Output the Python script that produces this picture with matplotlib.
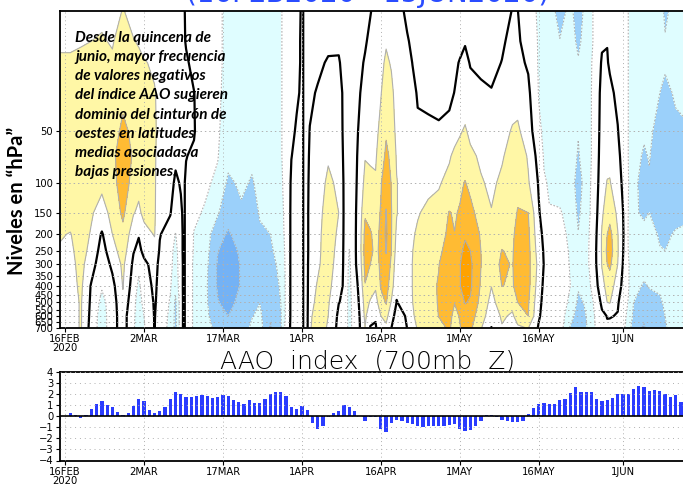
import numpy as np
import matplotlib
matplotlib.use("Agg")
import matplotlib.pyplot as plt

# days since 16 Feb 2020
tick_days = [0, 15, 30, 45, 60, 75, 90, 106]
tick_labels = ["16FEB\n2020", "2MAR", "17MAR", "1APR", "16APR", "1MAY", "16MAY", "1JUN"]

pressure = [10, 15, 20, 30, 50, 70, 100, 150, 200, 250, 300, 400, 500, 600, 700]
p_ticks = [50, 100, 150, 200, 250, 300, 350, 400, 450, 500, 550, 600, 650, 700]

# anomaly, one row per time column, top of the air column first
field_days = [
    -1.1, 1, 3, 5, 7, 9, 11, 13, 14, 15, 17, 18, 20, 21, 22, 22.5, 23, 24.5, 26.5, 29,
    31, 33.5, 35.5, 37, 39, 41, 42, 43, 44, 45, 45.5, 46, 46.5, 48, 50, 52, 53, 54, 55, 56,
    57, 58, 59, 60, 61, 62, 63, 65, 66, 67, 69, 71, 73, 74, 75, 76, 77, 79, 81, 83,
    85, 86, 88, 90, 91, 92, 94, 96, 97.5, 99, 100.5, 102, 103, 103.5, 105, 106, 107, 108, 110, 111,
    113, 114, 116, 118,
]
field = [
    [.5, .8, 1.2, 1.5, 1.6, 1.6, 1.6, 1.4, 1.1, .9, .8, .7, .6, .5, .5],
    [.5, .8, 1.2, 1.5, 1.7, 1.7, 1.7, 1.4, .95, .8, .7, .6, .5, .5, .5],
    [.6, .9, 1.3, 1.5, 1.8, 1.8, 1.8, 1.6, 1.5, 1.4, 1.3, 1.2, 1.1, 1.1, 1.1],
    [.6, 1.0, 1.4, 1.6, 1.8, 1.8, 1.5, 1.1, .9, .7, .4, -.1, -.2, -.3, -.4],
    [.8, 1.1, 1.5, 1.7, 1.8, 1.6, 1.2, .6, -.1, -.4, -.6, -.9, -1.3, -1.5, -1.5],
    [.6, .9, 1.2, 1.6, 1.8, 1.8, 1.6, 1.3, 1.0, .6, .2, -.3, -.5, -.4, -.4],
    [1.05, 1.6, 1.7, 1.9, 2.1, 2.5, 2.6, 2.2, 1.7, 1.5, 1.2, 1.05, .8, .5, .5],
    [.7, 1.05, 1.5, 1.7, 1.9, 1.9, 1.6, 1.05, .5, .05, -.2, -.5, -.8, -.9, -.9],
    [.65, .9, 1.3, 1.6, 1.7, 1.7, 1.2, .85, .05, -.2, -.8, -1.2, -1.3, -1.3, -1.4],
    [.6, .8, 1.05, 1.5, 1.6, 1.6, 1.5, 1.2, .7, .2, -.2, -.5, -.8, -1, -1.1],
    [.4, .7, .9, 1.05, 1.1, 1.1, 1.1, 1.1, 1.05, .7, .3, .2, .1, .05, .02],
    [.3, .5, .7, .8, .8, .7, .6, .5, .05, -.1, -.2, -.3, -.3, -.4, -.4],
    [.2, .4, .5, .5, .4, .3, .2, .05, -.4, -.6, -.7, -.9, -1.1, -1.2, -1.3],
    [.2, .3, .3, .3, .2, .1, -.1, -.5, -1.05, -1.4, -1.5, -1.7, -2.2, -2.3, -2.3],
    [.1, .2, .2, .2, .15, .1, .05, -.1, -.2, -.2, -.3, -.3, -.4, -.4, -.4],
    [.1, .1, .1, .1, .1, .1, .1, .1, .1, .1, .1, .1, .1, .1, .1],
    [-.1, -.05, .1, .2, .2, .02, -.1, -.1, -.1, -.1, -.1, -.1, -.1, -.1, -.1],
    [-.3, -.3, -.2, .02, .05, -.1, -.2, -.8, -1.05, -1.1, -1.2, -1.2, -1.2, -1.2, -1.2],
    [-.4, -.5, -.5, -.5, -.5, -.6, -.8, -1.1, -1.4, -1.5, -1.6, -1.7, -1.7, -1.7, -1.7],
    [-.85, -.85, -.85, -.85, -.9, -.95, -1.2, -1.9, -2.7, -2.95, -3.1, -3.1, -2.95, -2.6, -2.2],
    [-1.2, -1.2, -1.2, -1.3, -1.4, -1.7, -2.2, -2.7, -3.1, -3.5, -3.6, -3.6, -3.3, -3.0, -2.8],
    [-1.2, -1.3, -1.3, -1.3, -1.4, -1.5, -1.8, -2.2, -2.6, -2.8, -2.9, -2.9, -2.7, -2.6, -2.5],
    [-1.2, -1.3, -1.3, -1.4, -1.5, -1.8, -2.1, -2.3, -2.5, -2.6, -2.6, -2.5, -2.3, -2.05, -1.85],
    [-1.2, -1.2, -1.3, -1.3, -1.4, -1.5, -1.7, -1.95, -2.1, -2.2, -2.3, -2.2, -2.02, -1.8, -1.6],
    [-1.2, -1.2, -1.2, -1.2, -1.2, -1.3, -1.5, -1.7, -2.0, -2.2, -2.4, -2.5, -2.6, -2.9, -3.1],
    [-1.05, -1.05, -1.05, -1.05, -1.05, -1.05, -1.1, -1.2, -1.3, -1.5, -1.7, -1.9, -2.0, -2.1, -2.1],
    [-.8, -.8, -.8, -.8, -.8, -.8, -.8, -.8, -.8, -.8, -.8, -.8, -.8, -.8, -.6],
    [-.4, -.4, -.4, -.3, -.2, -.02, .15, .2, .2, .2, .2, .2, .2, .2, .2],
    [-.3, -.2, -.2, -.1, .1, .2, .2, .2, .2, .2, .2, .2, .2, .2, .2],
    [.1, .1, .1, .1, .1, .1, .1, .1, .1, .1, .1, .1, .1, .1, .1],
    [-.1, -.1, -.1, -.1, -.1, -.1, -.1, -.1, -.1, -.1, -.1, -.1, -.1, -.1, -.1],
    [-.2, -.2, -.2, -.2, -.2, -.2, -.2, -.2, -.2, -.2, -.2, -.2, -.2, -.2, -.2],
    [-.3, -.3, -.3, -.1, .02, .1, .2, .3, .3, .3, .4, .5, .6, .8, .9],
    [-.2, -.2, -.1, .05, .3, .4, .5, .6, .7, .75, .85, 1.1, 1.3, 1.5, 1.5],
    [-.2, -.1, .05, .4, .7, .9, 1.2, 1.5, 1.6, 1.6, 1.5, 1.3, 1.1, 1, .9],
    [-.2, -.05, .03, .2, .25, .4, .8, 1.0, .8, .6, .5, .3, .02, -.2, -.3],
    [-.1, -.1, -.1, -.1, -.1, -.1, -.1, -.1, -.1, -.1, -.1, -.1, -.1, -.1, -.1],
    [-.3, -.3, -.3, -.3, -.3, -.3, -.4, -.5, -.8, -1.02, -1.2, -1.3, -1.4, -1.4, -1.4],
    [-.2, -.2, -.2, -.2, -.2, -.2, -.2, -.2, -.2, -.2, -.2, -.3, -.4, -.5, -.5],
    [-.2, -.2, -.1, -.02, .1, .2, .3, .5, .6, .6, .5, .2, .1, .03, -.02],
    [-.1, -.05, .05, .2, .6, .95, 1.3, 1.9, 2.3, 2.4, 2.3, 1.95, 1.4, 1.2, 1.0],
    [-.02, .1, .2, .3, .5, .9, 1.2, 1.7, 2.1, 2.2, 2.0, 1.4, .9, .3, -.05],
    [.1, .2, .3, .4, .7, .9, 1.1, 1.5, 1.7, 1.8, 1.6, 1.1, .7, .1, -.1],
    [.3, .5, .7, .95, 1.3, 1.5, 1.9, 2.1, 2.2, 2.2, 2.2, 2.1, 1.5, 1.0, .8],
    [.4, .9, 1.2, 1.5, 1.9, 2.2, 2.7, 3.05, 3.2, 3.05, 2.8, 2.4, 2.1, 1.3, .8],
    [.3, .5, .9, 1.3, 1.6, 1.8, 1.95, 2.05, 2.05, 2.0, 1.8, 1.5, .9, .4, .02],
    [.2, .3, .4, .5, .7, .9, 1.05, 1.05, .8, .6, .4, .1, -.02, -.4, -.8],
    [-.1, .05, .2, .3, .4, .4, .4, .4, .4, .3, .3, .3, .2, .1, .02],
    [-.2, -.1, -.01, .15, .25, .4, .5, .7, .85, .97, 1.02, 1.02, .98, .9, .8],
    [-.3, -.3, -.2, -.05, .1, .3, .5, .9, 1.2, 1.4, 1.5, 1.5, 1.4, 1.2, 1.05],
    [-.3, -.3, -.3, -.1, .1, .3, .7, 1.3, 1.5, 1.7, 1.8, 1.8, 1.7, 1.5, 1.3],
    [-.4, -.4, -.3, -.2, .1, .4, .9, 1.4, 1.6, 1.8, 1.98, 2.05, 2.05, 2.02, 1.8],
    [-.4, -.4, -.4, -.2, .3, .9, 1.3, 2.05, 2.2, 2.4, 2.5, 2.5, 2.4, 2.2, 2.1],
    [-.3, -.2, -.15, .02, .7, 1.2, 1.6, 1.9, 2.02, 2.3, 2.4, 2.4, 2.02, 1.8, 1.7],
    [-.4, -.2, .05, .4, .9, 1.4, 1.8, 2.1, 2.5, 2.9, 2.95, 2.95, 2.5, 2.05, 1.95],
    [-.1, -.05, .2, .6, 1.1, 1.5, 2.05, 2.6, 2.95, 3.1, 3.4, 3.4, 3.05, 2.6, 2.3],
    [-.3, -.2, -.05, .3, .8, 1.2, 1.7, 2.4, 2.7, 3.0, 3.2, 3.15, 2.9, 2.5, 2.2],
    [-.3, -.2, -.1, .1, .5, .85, 1.1, 1.4, 1.9, 2.0, 2.02, 1.9, 1.7, 1.4, 1.1],
    [-.4, -.3, -.2, .05, .3, .4, .8, 1.05, 1.4, 1.6, 1.6, 1.02, .7, .5, -.02],
    [-.2, -.1, .02, .3, .6, .9, 1.2, 1.6, 1.8, 2.02, 2.15, 2.02, 1.5, 1.1, .95],
    [.02, .2, .3, .6, 1.1, 1.4, 1.6, 1.75, 1.8, 1.9, 1.95, 1.9, 1.2, .9, .8],
    [.01, .1, .2, .7, 1.15, 1.6, 1.8, 2.05, 2.4, 2.5, 2.5, 2.4, 2.0, 1.3, .9],
    [-.4, -.3, -.1, .2, .5, .9, 1.1, 2.0, 2.2, 2.3, 2.3, 2.3, 2.1, 2.0, 1.05],
    [-1.2, -1.1, -1.1, -1.05, -.8, -.4, -.1, .1, .3, .5, .7, .5, .3, .1, -.1],
    [-1.4, -1.3, -1.3, -1.2, -1.2, -1.1, -.9, -.5, -.2, -.1, -.05, -.2, -.3, -.3, -.3],
    [-1.5, -1.4, -1.4, -1.4, -1.3, -1.2, -1.1, -.95, -.7, -.6, -.5, -.4, -.4, -.5, -.5],
    [-2.4, -1.95, -1.7, -1.6, -1.5, -1.3, -1.2, -.95, -.7, -.6, -.6, -.5, -.5, -.5, -.5],
    [-1.7, -1.6, -1.6, -1.6, -1.5, -1.4, -1.3, -1.2, -1.2, -1.1, -1.05, -1.0, -1.2, -1.6, -2.1],
    [-2.6, -2.2, -1.9, -1.6, -1.95, -2.1, -2.6, -2.2, -1.95, -1.7, -1.6, -1.9, -2.2, -2.5, -2.6],
    [-1.6, -1.6, -1.5, -1.4, -1.4, -1.4, -1.4, -1.4, -1.3, -1.3, -1.3, -1.5, -1.9, -2.0, -2.1],
    [-.9, -.9, -.8, -.8, -.8, -.8, -.7, -.6, -.5, -.4, -.4, -.6, -.9, -1.05, -1.1],
    [-.4, -.1, .1, .3, .4, .5, .6, .85, 1.1, 1.1, 1.05, .7, .2, -.2, -.4],
    [-.3, -.02, .05, .3, .5, .7, 1.05, 1.5, 2.0, 2.2, 2.0, 1.3, 1.0, .03, -.1],
    [-.5, -.2, -.1, .2, .4, .8, 1.05, 1.7, 2.3, 2.5, 2.2, 1.4, 1.05, .05, -.2],
    [-.8, -.6, -.5, -.2, .05, .3, .5, .8, 1.05, 1.1, 1.0, .6, .1, -.05, -.3],
    [-.9, -.9, -.9, -.8, -.6, -.4, -.2, .02, .1, .05, -.05, -.3, -.5, -.7, -.8],
    [-1, -1, -1, -1, -1, -1, -.95, -1, -1.05, -1.0, -.9, -.9, -1.05, -1.2, -1.4],
    [-1.4, -1.4, -1.4, -1.5, -1.6, -1.7, -1.8, -1.9, -1.9, -1.7, -1.6, -1.7, -2.0, -2.2, -2.6],
    [-1.4, -1.4, -1.5, -1.6, -1.9, -2.1, -2.3, -2.1, -1.8, -1.6, -1.7, -2.1, -2.5, -2.8, -3.1],
    [-1.4, -1.4, -1.5, -1.6, -1.8, -1.95, -2.1, -2.0, -1.7, -1.5, -1.7, -1.95, -2.3, -2.4, -2.5],
    [-1.5, -1.6, -1.7, -2.0, -2.4, -2.6, -2.6, -2.3, -2.1, -1.95, -1.7, -1.9, -2.1, -2.1, -2.1],
    [-2.2, -1.9, -1.9, -2.2, -2.6, -2.8, -2.7, -2.4, -2.2, -2.0, -1.7, -1.7, -1.9, -2.0, -2.1],
    [-1.6, -1.6, -1.7, -1.9, -2.2, -2.5, -2.5, -2.3, -1.9, -1.7, -1.5, -1.4, -1.4, -1.4, -1.5],
    [-1.5, -1.5, -1.6, -1.8, -2.1, -2.3, -2.4, -2.1, -1.9, -1.7, -1.5, -1.4, -1.4, -1.4, -1.4],
]

bar_days = list(range(-1, 118))
aao_index = [
    -.3, .05, .3, .15, -.2, .15, .65, 1.15, 1.4, 1.0, .85, .4, .1, .3, .95, 1.55, 1.35, .55, .25, .45,
    .85, 1.55, 2.15, 2.0, 1.7, 1.7, 1.8, 1.95, 1.85, 1.65, 1.7, 1.95, 1.8, 1.5, 1.3, 1.1, 1.45, 1.2, 1.2, 1.55,
    2.0, 2.2, 2.15, 1.8, .85, .65, .9, .55, -.6, -1.15, -.9, -.1, .25, .45, 1.0, .8, .45, .05, -.45, -.05,
    -.05, -1.15, -1.45, -.6, -.35, -.45, -.6, -.7, -.85, -1.0, -.9, -.85, -.9, -.9, -.75, -.7, -1.15, -1.35, -1.2, -.9,
    -.45, .1, .15, -.05, -.3, -.45, -.55, -.55, -.4, .2, .75, 1.15, 1.2, 1.15, 1.1, 1.45, 1.6, 2.1, 2.6, 2.2,
    2.15, 2.15, 1.6, 1.4, 1.5, 1.65, 2.0, 2.05, 2.0, 2.5, 2.7, 2.6, 2.3, 2.35, 2.3, 2.0, 1.75, 1.9, 1.3,
]

note_lines = [
    "Desde la quincena de",
    "junio, mayor frecuencia",
    "de valores negativos",
    "del índice AAO sugieren",
    "dominio del cinturón de",
    "oestes en latitudes",
    "medias asociadas a",
    "bajas presiones.",
]

levels = [-9, -3, -2, -1, 1, 2, 3, 9]
colors = ["#74b2f5", "#9bd0fa", "#dffdff", "#ffffff", "#fff7a6", "#ffbb33", "#ffa200"]
GRID = "#b0b0b0"
TICK_FONT = 7.2

W, H = 683, 484
x0 = 59.5
xlim = (-1.05, 117.4)


def px_axes(fig, left, top, bottom):
    return fig.add_axes([left / W, 1 - bottom / H, 1 - left / W, (bottom - top) / H])


def set_time_axis(ax):
    ax.set_xlim(*xlim)
    ax.set_xticks(tick_days)
    ax.set_xticklabels(tick_labels, fontsize=TICK_FONT, linespacing=0.95, ha="center")
    ax.tick_params(axis="x", length=3, width=0.8, pad=1.5)
    ax.grid(True, axis="x", color=GRID, lw=0.7, ls=(0, (1, 3)))
    for s in ax.spines.values():
        s.set_linewidth(1.3)
    ax.spines["right"].set_visible(False)


fig = plt.figure(figsize=(W / 100, H / 100), dpi=100)

ax = px_axes(fig, x0, 11, 327.5)
z = np.array(field)
xx, pp = np.meshgrid(field_days, pressure, indexing="ij")
ax.contourf(xx, pp, z, levels=levels, colors=colors)
ax.contour(xx, pp, z, levels=[-3, -2, -1], colors=GRID, linewidths=0.8, linestyles=[(0, (1.5, 1.5))])
ax.contour(xx, pp, z, levels=[1, 2, 3], colors=GRID, linewidths=0.8, linestyles="solid")
ax.contour(xx, pp, z, levels=[0], colors="black", linewidths=1.6, linestyles="solid")
ax.set_yscale("log")
ax.set_ylim(700, 10)
ax.set_yticks(p_ticks)
ax.set_yticklabels([str(p) for p in p_ticks], fontsize=TICK_FONT)
ax.minorticks_off()
ax.tick_params(axis="y", length=3, width=0.8, pad=1.5)
ax.grid(True, axis="y", color=GRID, lw=0.7, ls=(0, (1.5, 3)))
set_time_axis(ax)
ax.set_axisbelow(False)

for i, line in enumerate(note_lines):
    fig.text(75 / W, 1 - (38 + i * 19.15) / H, line, fontsize=11, family="Lato",
             fontweight="bold", fontstyle="italic", color="black", va="center", ha="left")

fig.text(17 / W, 1 - 201 / H, "Niveles en “hPa”", rotation=90, fontsize=14.5, family="Lato",
         fontweight="bold", va="center", ha="center")

fig.text(368 / W, 1 + 6 / H, "(16FEB2020 - 15JUN2020)", fontsize=20, color="#2a4cff",
         va="center", ha="center")

fig.text(368 / W, 1 - 361 / H, "AAO  index  (700mb  Z)", fontsize=18, color="black",
         va="center", ha="center", fontweight="light")

ax2 = px_axes(fig, x0, 372, 460.5)
ax2.bar(bar_days, aao_index, width=0.62, color="#2a3cff", zorder=2)
ax2.axhline(0, color="black", lw=1.2, zorder=3)
ax2.set_ylim(-4, 4)
ax2.set_yticks(range(-4, 5))
ax2.tick_params(axis="y", labelsize=TICK_FONT, length=3, width=0.8, pad=1.5)
ax2.grid(True, axis="y", color=GRID, lw=0.7, ls=(0, (1, 4)), zorder=1)
set_time_axis(ax2)
ax2.set_axisbelow(False)

fig.savefig("out.png", dpi=100)
